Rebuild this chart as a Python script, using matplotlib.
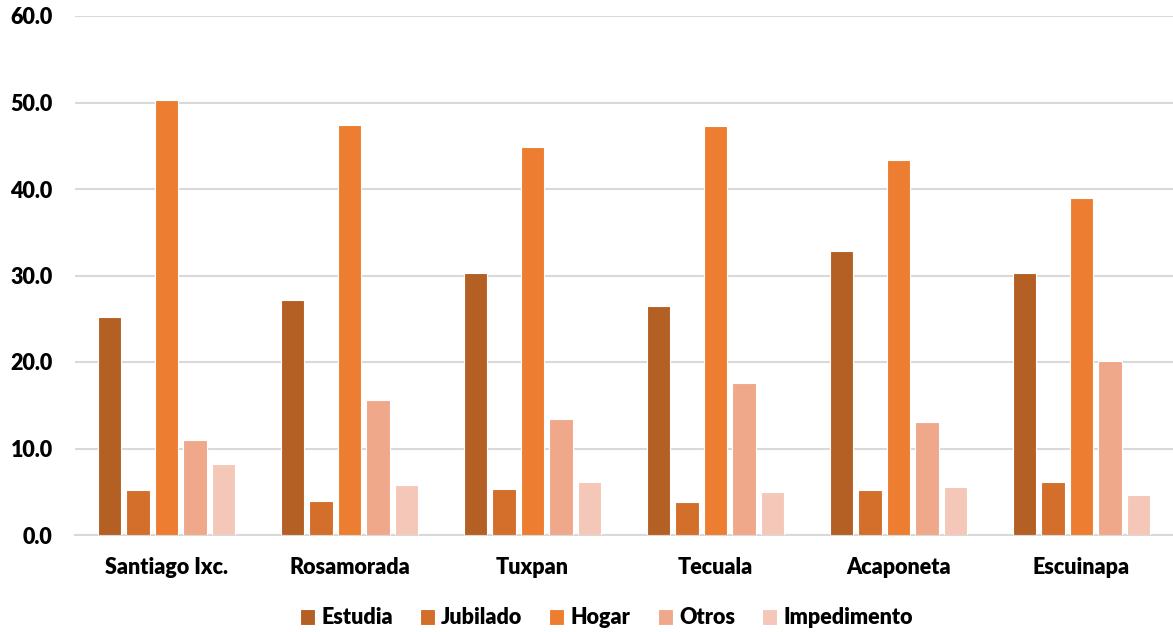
import matplotlib
matplotlib.use("Agg")
import matplotlib.pyplot as plt
import numpy as np

plt.rcParams['font.family'] = ['Lato', 'DejaVu Sans']
plt.rcParams['font.weight'] = 'heavy'

municipios = ["Santiago Ixc.", "Rosamorada", "Tuxpan", "Tecuala", "Acaponeta", "Escuinapa"]
estudia = [25.2, 27.2, 30.3, 26.5, 32.8, 30.3]
jubilado = [5.2, 3.9, 5.3, 3.8, 5.2, 6.1]
hogar = [50.3, 47.4, 44.9, 47.3, 43.4, 39.0]
otros = [11.0, 15.6, 13.4, 17.6, 13.1, 20.1]
impedimento = [8.2, 5.8, 6.1, 5.0, 5.5, 4.6]

series = [
    ("Estudia", estudia, "#B45F24"),
    ("Jubilado", jubilado, "#D46F2B"),
    ("Hogar", hogar, "#ED7D31"),
    ("Otros", otros, "#F0A88A"),
    ("Impedimento", impedimento, "#F4C7B8"),
]

fig = plt.figure(figsize=(11.73, 6.32), dpi=100)
ax = fig.add_axes([75 / 1173, (632 - 535) / 632, 1 - 75 / 1173, (535 - 16) / 632])

x = np.arange(len(municipios))
step = 0.156
width = 0.128
for i, (name, vals, color) in enumerate(series):
    ax.bar(x + (i - 2) * step, vals, width, color=color, edgecolor="white",
           linewidth=0.8, label=name, zorder=3)

fs = 15.5
ax.set_xlim(-0.5, len(municipios) - 0.5)
ax.set_ylim(0, 60)
ax.set_yticks(np.arange(0, 61, 10))
ax.set_yticklabels([f"{v:.1f}" for v in np.arange(0, 61, 10)], fontsize=fs, fontweight="heavy")
ax.set_xticks(x)
ax.set_xticklabels(municipios, fontsize=fs, fontweight="heavy")
ax.tick_params(axis="x", length=0, pad=16)
ax.tick_params(axis="y", length=0, pad=16)
ax.yaxis.grid(True, color="#D9D9D9", linewidth=1.5, zorder=0)
ax.set_axisbelow(True)
for side in ["top", "right", "left"]:
    ax.spines[side].set_visible(False)
ax.spines["bottom"].set_color("#D9D9D9")
ax.spines["bottom"].set_linewidth(1.5)

leg = fig.legend(loc="center", bbox_to_anchor=(0.517, 14 / 632), ncol=5, frameon=False,
                 prop={"size": fs, "weight": "heavy"}, handlelength=0.7, handleheight=0.7,
                 handletextpad=0.3, columnspacing=1.25, borderpad=0)

fig.savefig("out.png", dpi=100)
